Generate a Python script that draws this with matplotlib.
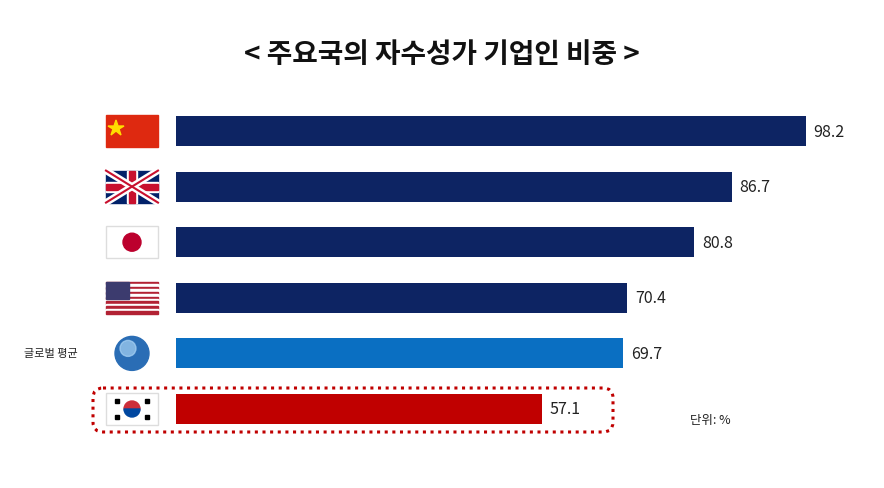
import matplotlib
matplotlib.use("Agg")
import matplotlib.pyplot as plt
from matplotlib.patches import Rectangle, Circle, FancyBboxPatch, Polygon, Wedge
plt.rcParams['font.family'] = ['Noto Sans CJK KR', 'DejaVu Sans']

countries = ['중국', '영국', '일본', '미국', '글로벌 평균', '한국']
values = [98.2, 86.7, 80.8, 70.4, 69.7, 57.1]
colors = ['#0d2463', '#0d2463', '#0d2463', '#0d2463', '#0a6fc2', '#c00000']

fig = plt.figure(figsize=(8.84, 4.89), dpi=100)
ax = fig.add_axes([176/884, 49/489, 708/884, 340/489])
y = list(range(len(values)))
ax.barh(y, values, height=0.54, color=colors)
for yi, v in zip(y, values):
    ax.text(v + 1.2, yi, f'{v}', va='center', ha='left', fontsize=11.5, fontweight='medium', color='#222222')
ax.set_xlim(0, 110.4)
ax.set_ylim(5.54, -0.576)
ax.axis('off')

ov = fig.add_axes([0, 0, 1, 1], zorder=-1)
ov.set_xlim(0, 884); ov.set_ylim(489, 0); ov.axis('off')
fig.text(0.5, 1 - 55/489, '< 주요국의 자수성가 기업인 비중 >', ha='center', va='center',
         fontsize=20, fontweight='bold', color='#111111')

def flag(i):
    cy = 132 + i*55.6
    x0, y0, w, h = 106, cy-16, 52, 32
    if i == 0:
        ov.add_patch(Rectangle((x0, y0), w, h, color='#de2910'))
        ov.add_patch(Polygon([(116, y0+5), (118, y0+11), (124, y0+11), (119, y0+14), (121, y0+20),
                              (116, y0+16), (111, y0+20), (113, y0+14), (108, y0+11), (114, y0+11)],
                             color='#ffde00'))
    elif i == 1:
        ov.add_patch(Rectangle((x0, y0), w, h, color='#012169'))
        ov.plot([x0, x0+w], [y0, y0+h], color='white', lw=5)
        ov.plot([x0, x0+w], [y0+h, y0], color='white', lw=5)
        ov.plot([x0, x0+w], [y0, y0+h], color='#c8102e', lw=1.5)
        ov.plot([x0, x0+w], [y0+h, y0], color='#c8102e', lw=1.5)
        ov.add_patch(Rectangle((x0, cy-5), w, 10, color='white'))
        ov.add_patch(Rectangle((x0+w/2-5, y0), 10, h, color='white'))
        ov.add_patch(Rectangle((x0, cy-3), w, 6, color='#c8102e'))
        ov.add_patch(Rectangle((x0+w/2-3, y0), 6, h, color='#c8102e'))
    elif i == 2:
        ov.add_patch(Rectangle((x0, y0), w, h, facecolor='white', edgecolor='#dddddd'))
        ov.add_patch(Circle((x0+w/2, cy), 9, color='#bc002d'))
    elif i == 3:
        for k in range(13):
            ov.add_patch(Rectangle((x0, y0+k*h/13), w, h/13, color='#b22234' if k % 2 == 0 else 'white'))
        ov.add_patch(Rectangle((x0, y0), w*0.45, h*7/13, color='#3c3b6e'))
    elif i == 4:
        ov.add_patch(Circle((x0+w/2, cy), 17, color='#2a6db5'))
        ov.add_patch(Circle((x0+w/2-4, cy-5), 8, color='#a9d3f5', alpha=0.7))
        fig.text(24/884, 1-cy/489, '글로벌 평균', fontsize=8, va='center', ha='left', color='#222222')
    else:
        ov.add_patch(Rectangle((x0, y0), w, h, facecolor='white', edgecolor='#dddddd'))
        ov.add_patch(Wedge((x0+w/2, cy), 8, 180, 360, color='#cd2e3a'))
        ov.add_patch(Wedge((x0+w/2, cy), 8, 0, 180, color='#0047a0'))
        for dx in (-17, 13):
            for dy in (-10, 6):
                ov.add_patch(Rectangle((x0+w/2+dx, cy+dy), 4, 4, color='black'))
for i in range(6):
    flag(i)

ov.add_patch(FancyBboxPatch((93, 389), 520, 44, boxstyle='round,pad=0,rounding_size=10',
                            fill=False, edgecolor='#c00000', lw=2.2, linestyle=(0, (1, 1.5))))
fig.text(690/884, 1-421/489, '단위: %', fontsize=9, va='center', color='#222222')
fig.savefig('out.png', dpi=100)
